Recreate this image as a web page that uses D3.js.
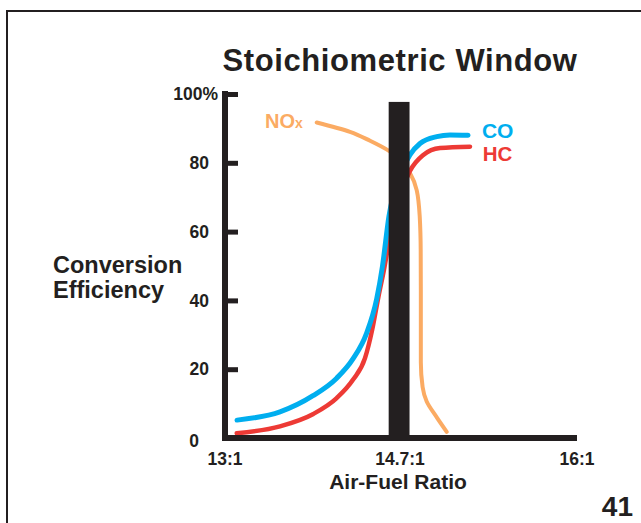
<!DOCTYPE html>
<html>
<head>
<meta charset="utf-8">
<script src="https://cdn.jsdelivr.net/npm/d3@7.9.0/dist/d3.min.js"></script>
<style>
  body { margin: 0; background: #fff; }
  svg { display: block; font-family: "Liberation Sans", Arial, sans-serif; font-weight: bold; }
</style>
</head>
<body>
<div id="chart"></div>
<script>
// Chart values
const xTicks = [13, 14.7, 16];
const xTickLabels = ['13:1', '14.7:1', '16:1'];
const yTicks = [0, 20, 40, 60, 80, 100];

// Stoichiometric window (air-fuel ratio range) and its top (percent)
const windowRange = [14.59, 14.77];
const windowTop = 97.7;

// [air-fuel ratio, conversion efficiency %]
const coPoints = [
  [13.117, 5.2], [13.534, 7.6], [13.855, 12.3], [14.085, 17.4], [14.243, 23.0],
  [14.376, 30.5], [14.474, 40.5], [14.53, 50.0], [14.593, 64.5], [14.7, 76.5],
  [14.773, 82.3], [14.847, 85.6], [14.97, 87.6], [15.067, 88.1], [15.2, 88.0]
];
const hcPoints = [
  [13.114, 1.4], [13.534, 3.4], [13.858, 7.0], [14.085, 11.6], [14.243, 16.9],
  [14.36, 23.2], [14.43, 31.5], [14.49, 41.0], [14.545, 49.0], [14.596, 57.5],
  [14.7, 70.0], [14.773, 77.6], [14.871, 82.3], [14.994, 84.3], [15.214, 84.7]
];
const noxPoints = [
  [13.891, 91.7], [14.214, 89.0], [14.409, 86.4], [14.596, 83.4], [14.7, 81.0],
  [14.773, 77.0], [14.823, 72.0], [14.845, 64.3], [14.852, 54.7], [14.853, 43.0],
  [14.853, 22.0], [14.866, 14.8], [14.896, 10.6], [14.97, 6.0], [15.043, 1.8]
];

const width = 641;
const height = 523;
const ink = '#231f20';

const svg = d3.select('#chart')
  .append('svg')
  .attr('width', width)
  .attr('height', height);

// Frame (cut off at right and bottom)
svg.append('rect')
  .attr('x', 7).attr('y', 11)
  .attr('width', 700).attr('height', 600)
  .attr('fill', 'none')
  .attr('stroke', ink)
  .attr('stroke-width', 2);

// Scales: the axis is not evenly spaced, 14.7:1 sits near the middle
const x = d3.scaleLinear()
  .domain([13, 14.7, 16])
  .range([225, 400, 577]);
const y = d3.scaleLinear()
  .domain([0, 100])
  .range([438, 94]);

// Title
svg.append('text')
  .attr('x', 400).attr('y', 70.5)
  .attr('text-anchor', 'middle')
  .attr('font-size', 31)
  .attr('letter-spacing', 0.6)
  .attr('fill', ink)
  .text('Stoichiometric Window');

// Curves: CO and HC rise with the ratio, NOx falls, so each gets a monotone curve
const lineX = d3.line()
  .x((d) => x(d[0]))
  .y((d) => y(d[1]))
  .curve(d3.curveMonotoneX);
const lineY = d3.line()
  .x((d) => x(d[0]))
  .y((d) => y(d[1]))
  .curve(d3.curveMonotoneY);

const series = [
  { name: 'NOx', points: noxPoints, line: lineY, color: '#fbab63', w: 4 },
  { name: 'HC', points: hcPoints, line: lineX, color: '#ed3a35', w: 4.5 },
  { name: 'CO', points: coPoints, line: lineX, color: '#00aeef', w: 5 }
];

svg.append('g')
  .selectAll('path')
  .data(series)
  .join('path')
  .attr('d', (d) => d.line(d.points))
  .attr('fill', 'none')
  .attr('stroke', (d) => d.color)
  .attr('stroke-width', (d) => d.w)
  .attr('stroke-linecap', 'round');

// Window bar
svg.append('rect')
  .attr('x', x(windowRange[0]))
  .attr('y', y(windowTop))
  .attr('width', x(windowRange[1]) - x(windowRange[0]))
  .attr('height', y(0) - y(windowTop))
  .attr('fill', ink);

// Y axis: ticks point inward, labels to the left
const yAxis = d3.axisLeft(y)
  .tickValues(yTicks)
  .tickSize(-13)
  .tickSizeOuter(0)
  .tickPadding(16)
  .tickFormat((d) => d === 100 ? '100%' : d);

const gy = svg.append('g')
  .attr('transform', `translate(${x(13)},0)`)
  .call(yAxis);
gy.select('.domain').remove();
gy.selectAll('.tick line').attr('stroke', ink).attr('stroke-width', 5);
gy.selectAll('.tick text')
  .attr('font-size', 17.5)
  .attr('font-family', '"Liberation Sans", Arial, sans-serif')
  .attr('font-weight', 'bold')
  .attr('fill', ink)
  .attr('dx', (d) => d === 100 ? 9 : d === 0 ? -10 : 0)
  .attr('dy', (d) => d === 0 ? '0.5em' : '0.32em');

// Axis lines
svg.append('line')
  .attr('x1', x(13)).attr('x2', x(13))
  .attr('y1', y(100) - 3).attr('y2', y(0) + 3)
  .attr('stroke', ink).attr('stroke-width', 6);
svg.append('line')
  .attr('x1', x(13) - 3).attr('x2', x(16))
  .attr('y1', y(0)).attr('y2', y(0))
  .attr('stroke', ink).attr('stroke-width', 6);

// X tick labels
svg.append('g')
  .selectAll('text')
  .data(xTicks)
  .join('text')
  .attr('x', (d) => x(d))
  .attr('y', 465)
  .attr('text-anchor', 'middle')
  .attr('font-size', 17.5)
  .attr('fill', ink)
  .text((d, i) => xTickLabels[i]);

// Axis titles
svg.append('text')
  .attr('x', 398).attr('y', 489)
  .attr('text-anchor', 'middle')
  .attr('font-size', 21)
  .attr('fill', ink)
  .text('Air-Fuel Ratio');

const yTitle = svg.append('text')
  .attr('x', 53).attr('y', 273)
  .attr('font-size', 23.5)
  .attr('fill', ink);
yTitle.append('tspan').attr('x', 53).text('Conversion');
yTitle.append('tspan').attr('x', 53).attr('dy', 25).text('Efficiency');

// Series labels
const nox = svg.append('text')
  .attr('x', x(13.389)).attr('y', y(90.1))
  .attr('font-size', 20)
  .attr('fill', '#fbab63');
nox.append('tspan').text('NO');
nox.append('tspan').attr('font-size', 14).text('x');

svg.append('text')
  .attr('x', x(15.302)).attr('y', y(87.3))
  .attr('font-size', 21)
  .attr('fill', '#00aeef')
  .text('CO');
svg.append('text')
  .attr('x', x(15.307)).attr('y', y(80.5))
  .attr('font-size', 20.5)
  .attr('fill', '#ed3a35')
  .text('HC');

// Page number
svg.append('text')
  .attr('x', 633).attr('y', 516)
  .attr('text-anchor', 'end')
  .attr('font-size', 28)
  .attr('fill', ink)
  .text('41');
</script>
</body>
</html>
